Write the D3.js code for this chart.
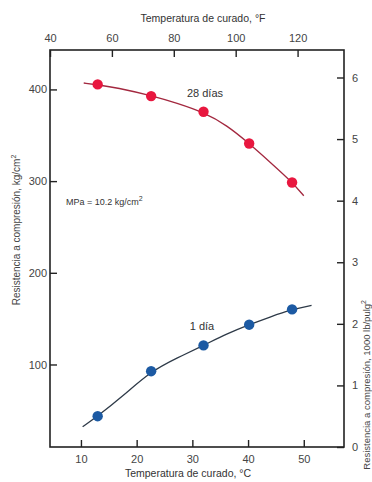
<!DOCTYPE html>
<html>
<head>
<meta charset="utf-8">
<script src="https://cdn.jsdelivr.net/npm/d3@7"></script>
<style>
  body { margin: 0; background: #fff; }
  svg { display: block; font-family: 'Liberation Sans', Arial, sans-serif; }
</style>
</head>
<body>
<div id="chart"></div>
<script>
// curing temperature (°C) of the measured points
const tempC = [13, 22.6, 32, 40.2, 47.9];
// compressive strength, kg/cm2
const strength28 = [405.5, 392.7, 375.6, 341, 298.5];
const strength1 = [43.6, 92.7, 120.8, 143.4, 160.1];

// fitted curves
const curve28C = [10.5, 13, 16.4, 22.8, 27.2, 32, 36.2, 40.2, 43.9, 47.9, 50];
const curve28Kg = [407, 405, 402, 393, 385, 375, 361, 341, 321, 299, 284];
const curve1C = [10.3, 13, 17.6, 22.6, 27.2, 32, 36.2, 40.2, 43.9, 47.9, 51.4];
const curve1Kg = [32, 43.6, 66, 92.7, 107, 120.8, 133.5, 143.4, 151.7, 160.1, 164.5];

const ticksC = [10, 20, 30, 40, 50];
const ticksF = [40, 60, 80, 100, 120];
const ticksKg = [100, 200, 300, 400];
const ticksPsi = [0, 1, 2, 3, 4, 5, 6];

const width = 372;
const height = 482;
const margin = { top: 50, bottom: 35, left: 50, right: 28 };

const svg = d3.select('#chart')
  .append('svg')
  .attr('width', width)
  .attr('height', height);

svg.append('rect').attr('width', width).attr('height', height).attr('fill', '#fff');

const x = d3.scaleLinear()
  .domain([40, 135].map(f => (f - 32) / 1.8))
  .range([margin.left, width - margin.right]);
const xF = d3.scaleLinear()
  .domain(x.domain().map(c => c * 1.8 + 32))
  .range(x.range());
const y = d3.scaleLinear()
  .domain([10, 443])
  .range([height - margin.bottom, margin.top]);
const yPsi = d3.scaleLinear()
  .domain([0, 6])
  .range([height - margin.bottom, 77.5]);

const tickLen = 7;
function styleAxis(g) {
  g.select('.domain').remove();
  g.selectAll('line').attr('stroke', '#222').attr('stroke-width', 1.4);
  g.selectAll('text').attr('font-size', 11).attr('fill', '#444').attr('font-family', null);
}

svg.append('g')
  .attr('transform', `translate(0, ${height - margin.bottom})`)
  .call(d3.axisBottom(x).tickValues(ticksC).tickSizeInner(-tickLen).tickSizeOuter(0).tickPadding(8))
  .call(styleAxis);
svg.append('g')
  .attr('transform', `translate(0, ${margin.top})`)
  .call(d3.axisTop(xF).tickValues(ticksF).tickSizeInner(-tickLen).tickSizeOuter(0).tickPadding(8))
  .call(styleAxis);
svg.append('g')
  .attr('transform', `translate(${margin.left}, 0)`)
  .call(d3.axisLeft(y).tickValues(ticksKg).tickSizeInner(-tickLen).tickSizeOuter(0).tickPadding(3))
  .call(styleAxis);
svg.append('g')
  .attr('transform', `translate(${width - margin.right}, 0)`)
  .call(d3.axisRight(yPsi).tickValues(ticksPsi).tickFormat(d3.format('d'))
    .tickSizeInner(-tickLen).tickSizeOuter(0).tickPadding(8))
  .call(styleAxis);

// frame
svg.append('rect')
  .attr('x', margin.left)
  .attr('y', margin.top)
  .attr('width', width - margin.left - margin.right)
  .attr('height', height - margin.top - margin.bottom)
  .attr('fill', 'none')
  .attr('stroke', '#222')
  .attr('stroke-width', 1.6);

// axis titles
svg.append('text')
  .attr('x', 203).attr('y', 22)
  .attr('text-anchor', 'middle')
  .attr('font-size', 10.5).attr('fill', '#333')
  .text('Temperatura de curado, °F');
svg.append('text')
  .attr('x', 188).attr('y', 477)
  .attr('text-anchor', 'middle')
  .attr('font-size', 10.5).attr('fill', '#333')
  .text('Temperatura de curado, °C');

const leftTitle = svg.append('text')
  .attr('transform', 'translate(20, 230) rotate(-90)')
  .attr('text-anchor', 'middle')
  .attr('font-size', 10).attr('fill', '#444');
leftTitle.append('tspan').text('Resistencia a compresión, kg/cm');
leftTitle.append('tspan').attr('font-size', 7).attr('dy', -4).text('2');

const rightTitle = svg.append('text')
  .attr('transform', 'translate(370, 300) rotate(-90)')
  .attr('text-anchor', 'end')
  .attr('font-size', 9.5).attr('fill', '#444');
rightTitle.append('tspan').text('Resistencia a compresión, 1000 lb/pulg');
rightTitle.append('tspan').attr('font-size', 7).attr('dy', -4).text('2');

// curves
const line = d3.line()
  .x(d => x(d[0]))
  .y(d => y(d[1]))
  .curve(d3.curveBasis);

svg.append('path')
  .datum(d3.zip(curve28C, curve28Kg))
  .attr('d', line)
  .attr('fill', 'none')
  .attr('stroke', '#a3283f')
  .attr('stroke-width', 1.3);
svg.append('path')
  .datum(d3.zip(curve1C, curve1Kg))
  .attr('d', line)
  .attr('fill', 'none')
  .attr('stroke', '#2e3a48')
  .attr('stroke-width', 1.3);

// points
svg.append('g')
  .selectAll('circle')
  .data(d3.zip(tempC, strength28))
  .join('circle')
  .attr('cx', d => x(d[0]))
  .attr('cy', d => y(d[1]))
  .attr('r', 5.2)
  .attr('fill', '#e8173f');
svg.append('g')
  .selectAll('circle')
  .data(d3.zip(tempC, strength1))
  .join('circle')
  .attr('cx', d => x(d[0]))
  .attr('cy', d => y(d[1]))
  .attr('r', 5.2)
  .attr('fill', '#1c5aa3');

// labels
svg.append('text')
  .attr('x', 205).attr('y', 97)
  .attr('text-anchor', 'middle')
  .attr('font-size', 11).attr('fill', '#333')
  .text('28 días');
svg.append('text')
  .attr('x', 202).attr('y', 330)
  .attr('text-anchor', 'middle')
  .attr('font-size', 11).attr('fill', '#333')
  .text('1 día');
const mpa = svg.append('text')
  .attr('x', 66).attr('y', 205)
  .attr('font-size', 9).attr('fill', '#333');
mpa.append('tspan').text('MPa = 10.2 kg/cm');
mpa.append('tspan').attr('font-size', 7).attr('dy', -4).text('2');
</script>
</body>
</html>
